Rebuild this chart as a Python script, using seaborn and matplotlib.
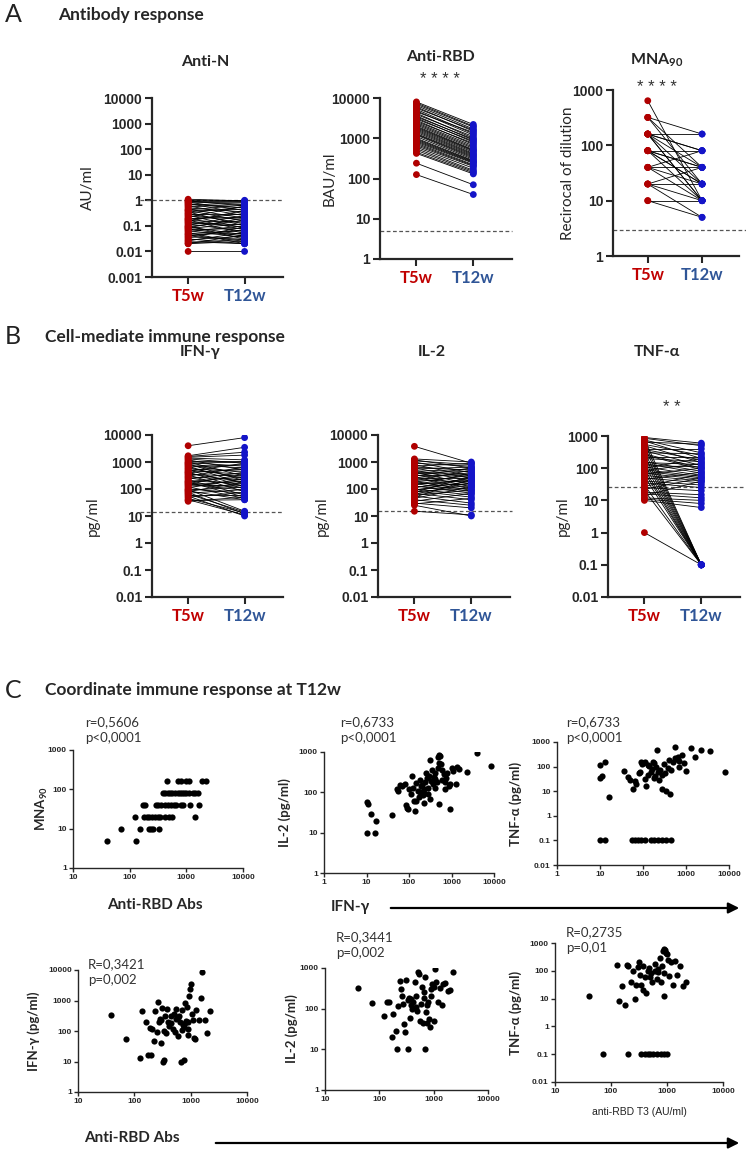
import numpy as np
import pandas as pd
import seaborn as sns
import matplotlib
matplotlib.use("Agg")
from matplotlib import pyplot as plt
from matplotlib.ticker import NullLocator
from matplotlib.transforms import blended_transform_factory
from matplotlib.patches import FancyArrowPatch

W, H = 746, 1149
RED, BLUE = "#b00000", "#1414c8"
RED_TXT, BLUE_TXT = "#c00000", "#2f5597"
TEXT_FONT = ["Lato", "DejaVu Sans"]
TICK_FONT = ["Liberation Sans", "DejaVu Sans"]

# --- A: antibody response, paired T5w / T12w ---
antin_t5 = [1.1, 1.0, 0.95, 0.9, 0.85, 0.8, 0.75, 0.7, 0.65, 0.6,
            0.55, 0.5, 0.45, 0.42, 0.4, 0.38, 0.35, 0.32, 0.3, 0.28,
            0.26, 0.24, 0.22, 0.2, 0.19, 0.18, 0.17, 0.16, 0.15, 0.14,
            0.13, 0.12, 0.11, 0.1, 0.095, 0.09, 0.085, 0.08, 0.075, 0.07,
            0.065, 0.06, 0.055, 0.05, 0.047, 0.044, 0.04, 0.037, 0.034, 0.031,
            0.028, 0.026, 0.024, 0.022, 0.02, 0.02, 0.01]
antin_t12 = [0.95, 1.0, 0.6, 0.9, 0.4, 0.85, 0.3, 0.5, 0.8, 0.25,
             0.7, 0.35, 0.2, 0.65, 0.15, 0.45, 0.1, 0.55, 0.12, 0.28,
             0.08, 0.18, 0.6, 0.07, 0.22, 0.3, 0.05, 0.14, 0.4, 0.09,
             0.11, 0.06, 0.25, 0.03, 0.16, 0.045, 0.2, 0.12, 0.04, 0.08,
             0.035, 0.1, 0.02, 0.065, 0.05, 0.025, 0.07, 0.03, 0.09, 0.02,
             0.04, 0.055, 0.02, 0.03, 0.045, 0.025, 0.01]

rbd_t5 = [8000, 7500, 7000, 6500, 6000, 5600, 5200, 4800, 4500, 4200,
          3900, 3600, 3400, 3200, 3000, 2800, 2600, 2450, 2300, 2150,
          2000, 1900, 1800, 1700, 1600, 1500, 1400, 1300, 1250, 1200,
          1100, 1000, 950, 900, 850, 800, 750, 700, 650, 600,
          550, 500, 450, 420, 240, 125]
rbd_t12 = [2200, 2000, 1900, 1700, 1500, 1600, 1300, 1200, 1400, 1000,
           1100, 900, 950, 800, 850, 700, 750, 650, 600, 560,
           520, 500, 480, 450, 420, 400, 380, 360, 340, 320,
           300, 280, 270, 260, 250, 240, 220, 210, 200, 180,
           160, 150, 140, 130, 70, 40]

mna_t5 = [640, 320, 320, 320, 160, 160, 160, 160, 160, 160,
          160, 80, 80, 80, 80, 80, 80, 40, 40, 40,
          40, 20, 20, 20, 20, 10, 10]
mna_t12 = [10, 160, 40, 20, 160, 80, 80, 40, 20, 10,
           10, 80, 40, 40, 20, 20, 10, 80, 40, 20,
           10, 40, 20, 10, 5, 10, 5]

# --- B: cell-mediated response, paired T5w / T12w ---
ifn_t5 = [4000, 1700, 1600, 1500, 1400, 1300, 1200, 1100, 1000, 950,
          900, 850, 800, 750, 700, 650, 600, 560, 520, 480,
          450, 420, 400, 380, 350, 330, 300, 280, 260, 240,
          220, 200, 190, 180, 170, 160, 150, 140, 130, 120,
          110, 100, 95, 90, 85, 80, 75, 70, 65, 60,
          55, 50, 45, 40, 38, 35]
ifn_t12 = [8000, 3500, 2300, 1800, 1200, 900, 500, 1100, 300, 700,
           1000, 200, 600, 400, 150, 800, 250, 450, 120, 350,
           900, 100, 550, 180, 300, 80, 650, 220, 130, 400,
           60, 160, 280, 50, 110, 350, 90, 200, 140, 45,
           250, 70, 15, 120, 40, 180, 12, 95, 14, 60,
           10, 75, 13, 11, 40, 50]

il2_t5 = [3800, 1300, 1200, 1100, 1000, 900, 800, 700, 650, 600,
          550, 500, 450, 420, 400, 380, 350, 320, 300, 280,
          260, 240, 220, 200, 190, 180, 170, 160, 150, 140,
          130, 120, 110, 100, 95, 90, 85, 80, 75, 70,
          65, 60, 55, 50, 45, 40, 35, 30, 28, 25, 15]
il2_t12 = [900, 1000, 600, 800, 400, 700, 300, 900, 500, 250,
           650, 200, 550, 150, 450, 350, 120, 300, 600, 100,
           400, 250, 180, 500, 90, 320, 140, 80, 220, 380,
           70, 160, 260, 60, 130, 200, 50, 110, 300, 40,
           170, 90, 30, 230, 120, 25, 70, 20, 45, 10, 11]

tnf_t5 = [900, 850, 800, 750, 700, 650, 600, 550, 500, 450,
          400, 380, 350, 320, 300, 280, 260, 240, 220, 200,
          180, 160, 150, 140, 130, 120, 110, 100, 95, 90,
          85, 80, 75, 70, 65, 60, 55, 50, 45, 40,
          35, 30, 27, 25, 22, 20, 18, 16, 14, 12,
          11, 10, 1]
tnf_t12 = [600, 500, 0.1, 300, 200, 550, 0.1, 250, 150, 0.1,
           400, 180, 120, 0.1, 280, 100, 90, 0.1, 220, 160,
           0.1, 80, 130, 70, 0.1, 110, 60, 200, 0.1, 55,
           140, 50, 0.1, 45, 100, 40, 0.1, 35, 75, 30,
           25, 0.1, 65, 20, 50, 0.1, 15, 12, 40, 10,
           8, 6, 0.1]

# --- C: correlations at T12w ---
c1_rbd = [460, 720, 800, 1000, 1100, 1900, 2200,
          380, 420, 470, 520, 570, 620, 700, 760, 830, 900, 1000, 1100, 1300, 1450, 1600,
          170, 190, 290, 320, 360, 420, 470, 540, 600, 650, 790, 880, 1150, 1650,
          125, 180, 200, 220, 250, 280, 310, 350, 420, 500, 570, 1450,
          70, 150, 215, 235, 260, 330,
          40, 130]
c1_mna = [160, 160, 160, 160, 160, 160, 160,
          80, 80, 80, 80, 80, 80, 80, 80, 80, 80, 80, 80, 80, 80, 80,
          40, 40, 40, 40, 40, 40, 40, 40, 40, 40, 40, 40, 40, 40,
          20, 20, 20, 20, 20, 20, 20, 20, 20, 20, 20, 20,
          10, 10, 10, 10, 10, 10,
          5, 5]

c2_ifn = [10, 11, 13, 17, 10, 16, 39, 51, 55, 60,
          70, 80, 85, 90, 95, 100, 110, 120, 125, 130,
          140, 150, 160, 170, 180, 190, 200, 210, 220, 230,
          240, 250, 260, 280, 300, 310, 330, 350, 360, 380,
          400, 420, 450, 470, 500, 510, 520, 550, 580, 600,
          650, 700, 750, 800, 850, 920, 920, 1000, 1100, 1250,
          1320, 1500, 2350, 3900, 8300, 480, 280, 320, 230, 400,
          180, 600, 700, 150]
c2_il2 = [58, 52, 29, 20, 10, 10, 27, 118, 105, 150,
          140, 160, 48, 40, 38, 120, 90, 250, 130, 60,
          35, 170, 110, 75, 200, 140, 150, 85, 55, 120,
          180, 300, 230, 130, 260, 620, 190, 350, 160, 240,
          300, 210, 180, 400, 520, 820, 51, 790, 500, 200,
          290, 180, 230, 300, 140, 160, 38, 400, 330, 160,
          420, 380, 316, 950, 450, 760, 90, 70, 95, 130,
          100, 350, 120, 60]

c3_ifn = [10, 13, 10, 11, 16, 10, 13, 37, 45, 50,
          60, 65, 70, 80, 85, 90, 95, 100, 110, 120,
          130, 140, 150, 160, 170, 180, 190, 200, 212, 220,
          240, 250, 270, 300, 320, 350, 380, 400, 433, 450,
          500, 565, 600, 650, 700, 800, 900, 1000, 1300, 1600,
          2200, 3550, 8200, 280, 180, 130, 110, 700, 550, 55,
          65, 75, 90, 110, 150, 180, 220, 280, 350, 450]
c3_tnf = [117, 160, 34, 40, 6, 0.1, 0.1, 69, 38, 28,
          12, 25, 20, 55, 60, 150, 130, 140, 30, 16,
          45, 110, 60, 80, 150, 35, 40, 100, 490, 60,
          28, 70, 45, 130, 55, 10, 90, 180, 8, 70,
          150, 650, 200, 250, 170, 300, 140, 65, 560, 240,
          460, 440, 59, 12, 140, 120, 160, 100, 220, 0.1,
          0.1, 0.1, 0.1, 0.1, 0.1, 0.1, 0.1, 0.1, 0.1, 0.1]

c4_rbd = [39, 70, 125, 135, 160, 175, 190, 200, 210, 220,
          235, 250, 260, 270, 280, 300, 310, 320, 330, 340,
          350, 370, 380, 400, 420, 450, 480, 500, 520, 550,
          560, 600, 620, 650, 660, 700, 720, 760, 780, 800,
          820, 850, 880, 900, 950, 980, 1000, 1050, 1100, 1150,
          1200, 1250, 1400, 1500, 1600, 1800, 1950, 2200, 900, 750,
          600, 450, 300, 700]
c4_ifn = [340, 56, 13, 460, 190, 16, 130, 16, 120, 48,
          450, 90, 900, 200, 240, 40, 550, 10, 11, 100,
          300, 85, 520, 200, 150, 300, 120, 350, 90, 530,
          250, 70, 300, 200, 10, 110, 160, 11, 800, 180,
          210, 600, 120, 200, 1400, 2300, 3600, 350, 230, 60,
          56, 500, 230, 1200, 8300, 230, 85, 440, 75, 140,
          280, 180, 230, 500]

c5_rbd = [40, 72, 140, 150, 123, 170, 180, 200, 210, 220,
          240, 250, 260, 270, 290, 300, 310, 330, 340, 350,
          360, 380, 400, 420, 450, 480, 500, 520, 540, 560,
          580, 600, 630, 650, 690, 700, 720, 760, 800, 830,
          850, 880, 900, 950, 1000, 1050, 1100, 1200, 1300, 1400,
          1500, 1600, 1800, 2000, 2230, 650, 480, 380, 750, 1000]
c5_il2 = [325, 138, 145, 150, 66, 20, 75, 28, 10, 115,
          480, 300, 200, 130, 42, 27, 500, 10, 160, 180,
          60, 120, 100, 150, 450, 200, 90, 800, 700, 50,
          130, 350, 45, 250, 10, 600, 85, 45, 150, 57,
          35, 300, 200, 400, 350, 930, 450, 150, 330, 120,
          400, 420, 270, 280, 800, 180, 110, 170, 120, 50]

c6_rbd = [40, 73, 205, 350, 400, 450, 500, 560, 650, 780,
          900, 1000, 130, 140, 160, 177, 190, 200, 230, 250,
          270, 280, 300, 310, 330, 350, 370, 380, 400, 430,
          450, 480, 500, 520, 550, 600, 650, 700, 750, 780,
          800, 850, 880, 900, 920, 950, 1000, 1050, 1100, 1200,
          1300, 1400, 1500, 1700, 1900, 2200, 600, 700, 900]
c6_tnf = [12, 0.1, 0.1, 0.1, 0.1, 0.1, 0.1, 0.1, 0.1, 0.1,
          0.1, 0.1, 160, 8, 28, 6, 160, 150, 40, 100,
          10, 30, 140, 200, 70, 30, 20, 150, 60, 16,
          100, 130, 60, 80, 40, 100, 50, 120, 300, 40,
          150, 500, 600, 12, 550, 450, 400, 250, 65, 200,
          30, 230, 70, 150, 28, 40, 180, 90, 80]


sns.set_style("ticks")
plt.rcParams["font.family"] = TEXT_FONT
plt.rcParams["mathtext.fontset"] = "custom"
plt.rcParams["mathtext.rm"] = "Lato"
plt.rcParams["mathtext.bf"] = "Lato:bold"


def px_axes(fig, left, top, right, bottom):
    return fig.add_axes([left / W, 1 - bottom / H, (right - left) / W, (bottom - top) / H])


def px_text(fig, x, y, s, **kw):
    kw.setdefault("ha", "center")
    kw.setdefault("va", "center")
    return fig.text(x / W, 1 - y / H, s, **kw)


def decades(lo, hi):
    exps = np.arange(round(np.log10(lo)), round(np.log10(hi)) + 1)
    return [10.0 ** e for e in exps]


def log_ticks(ax, axis, lim, size, weight="bold"):
    ticks = decades(*lim)
    labels = [f"{t:g}" for t in ticks]
    if axis == "y":
        ax.set_ylim(*lim)
        ax.set_yticks(ticks, labels, fontsize=size, fontweight=weight, family=TICK_FONT)
        ax.yaxis.set_minor_locator(NullLocator())
    else:
        ax.set_xlim(*lim)
        ax.set_xticks(ticks, labels, fontsize=size, fontweight=weight, family=TICK_FONT)
        ax.xaxis.set_minor_locator(NullLocator())


def paired_panel(fig, box, t5, t12, ylim, title, title_xy, ylabel, ylabel_x,
                 cutoff, cut_span, stars=None, stars_xy=None):
    ax = px_axes(fig, *box)
    n = len(t5)
    df = pd.DataFrame({"subject": list(range(n)) * 2,
                       "time": [0] * n + [1] * n,
                       "value": list(t5) + list(t12)})
    sns.lineplot(data=df, x="time", y="value", units="subject", estimator=None,
                 color="black", lw=0.6, ax=ax)
    sns.scatterplot(data=df, x="time", y="value", hue="time",
                    palette={0: RED, 1: BLUE}, s=24, linewidth=0,
                    legend=False, ax=ax, zorder=3)
    ax.set_yscale("log")
    log_ticks(ax, "y", ylim, 10)
    ax.set_xlim(-0.64, 1.68)
    ax.set_xticks([0, 1], ["T5w", "T12w"], fontsize=12, fontweight="bold", family=TEXT_FONT)
    for lab, c in zip(ax.get_xticklabels(), [RED_TXT, BLUE_TXT]):
        lab.set_color(c)
    ax.tick_params(length=5, width=1.5, pad=2)
    ax.tick_params(axis="x", pad=3)
    ax.set_xlabel("")
    ax.set_ylabel("")
    sns.despine(ax=ax)
    for sp in ("left", "bottom"):
        ax.spines[sp].set_linewidth(1.6)
    trans = blended_transform_factory(fig.transFigure, ax.transData)
    ax.plot([cut_span[0] / W, cut_span[1] / W], [cutoff, cutoff], transform=trans,
            ls=(0, (3, 2)), color="#555555", lw=0.9, clip_on=False, zorder=1)
    px_text(fig, *title_xy, title, fontsize=11.5, fontweight="bold")
    if stars:
        px_text(fig, *stars_xy, stars, fontsize=12, family=TICK_FONT, color="#333333")
    px_text(fig, ylabel_x, (box[1] + box[3]) / 2, ylabel, fontsize=11, rotation=90)
    return ax


def scatter_panel(fig, box, x, y, xlim, ylim, ylabel, ylabel_x, note, note_xy):
    ax = px_axes(fig, *box)
    sns.scatterplot(x=x, y=y, color="black", s=20, linewidth=0, ax=ax)
    ax.set_xscale("log")
    ax.set_yscale("log")
    log_ticks(ax, "x", xlim, 6)
    log_ticks(ax, "y", ylim, 6)
    ax.tick_params(length=3, width=1.0, pad=1.5)
    ax.set_xlabel("")
    ax.set_ylabel("")
    sns.despine(ax=ax)
    for sp in ("left", "bottom"):
        ax.spines[sp].set_linewidth(1.0)
    px_text(fig, ylabel_x, (box[1] + box[3]) / 2, ylabel, fontsize=9.5,
            fontweight="bold", rotation=90)
    px_text(fig, *note_xy, note, fontsize=9.5, ha="left", va="top",
            color="#333333", linespacing=1.4)
    return ax


def px_arrow(fig, x0, x1, y):
    arr = FancyArrowPatch((x0 / W, 1 - y / H), (x1 / W, 1 - y / H),
                          transform=fig.transFigure, arrowstyle="-|>",
                          mutation_scale=16, color="black", lw=1.6)
    fig.add_artist(arr)


fig = plt.figure(figsize=(W / 100, H / 100), dpi=100)

# section headers
for letter, head, y in [("A", "Antibody response", 15),
                        ("B", "Cell-mediate immune response", 337),
                        ("C", "Coordinate immune response at T12w", 690)]:
    px_text(fig, 5, y, letter, fontsize=18, ha="left", color="#222222")
    px_text(fig, 45 if letter != "A" else 58, y, head, fontsize=12.5,
            fontweight="bold", ha="left")

# panel A
paired_panel(fig, (152, 98, 283, 277), antin_t5, antin_t12, (0.001, 10000),
             "Anti-N", (205, 62), "AU/ml", 88, 1, (140, 283))
paired_panel(fig, (380, 98, 512, 259), rbd_t5, rbd_t12, (1, 10000),
             "Anti-RBD", (440, 57), "BAU/ml", 330, 5, (380, 512),
             stars="* * * *", stars_xy=(440, 80))
paired_panel(fig, (613, 90, 739, 256), mna_t5, mna_t12, (1, 1000),
             r"MNA$_{\mathbf{90}}$", (657, 60), "Recirocal of dilution", 568, 3, (613, 746),
             stars="* * * *", stars_xy=(657, 88))

# panel B
paired_panel(fig, (152, 435, 283, 597), ifn_t5, ifn_t12, (0.01, 10000),
             "IFN-γ", (200, 352), "pg/ml", 93, 14, (140, 283))
paired_panel(fig, (378, 435, 510, 597), il2_t5, il2_t12, (0.01, 10000),
             "IL-2", (432, 352), "pg/ml", 322, 15, (378, 512))
paired_panel(fig, (608, 436, 740, 597), tnf_t5, tnf_t12, (0.01, 1000),
             "TNF-α", (657, 352), "pg/ml", 563, 27, (608, 746),
             stars="* *", stars_xy=(672, 408))

# panel C, row 1
scatter_panel(fig, (73, 750, 243, 868), c1_rbd, c1_mna, (10, 10000), (1, 1000),
              r"MNA$_{\mathbf{90}}$", 42, "r=0,5606\np<0,0001", (85, 716))
scatter_panel(fig, (324, 752, 494, 873), c2_ifn, c2_il2, (1, 10000), (1, 1000),
              "IL-2 (pg/ml)", 285, "r=0,6733\np<0,0001", (340, 716))
scatter_panel(fig, (557, 742, 729, 865), c3_ifn, c3_tnf, (1, 10000), (0.01, 1000),
              "TNF-α (pg/ml)", 516, "r=0,6733\np<0,0001", (566, 716))
px_text(fig, 155, 905, "Anti-RBD Abs", fontsize=11, fontweight="bold")
px_text(fig, 350, 907, "IFN-γ", fontsize=11, fontweight="bold")
px_arrow(fig, 388, 742, 908)

# panel C, row 2
scatter_panel(fig, (78, 970, 247, 1092), c4_rbd, c4_ifn, (10, 10000), (1, 10000),
              "IFN-γ (pg/ml)", 34, "R=0,3421\np=0,002", (88, 958))
scatter_panel(fig, (325, 968, 488, 1090), c5_rbd, c5_il2, (10, 10000), (1, 1000),
              "IL-2 (pg/ml)", 292, "R=0,3441\np=0,002", (336, 931))
scatter_panel(fig, (555, 943, 723, 1082), c6_rbd, c6_tnf, (10, 10000), (0.01, 1000),
              "TNF-α (pg/ml)", 516, "R=0,2735\np=0,01", (566, 926))
px_text(fig, 639, 1112, "anti-RBD T3 (AU/ml)", fontsize=7.5, family=TICK_FONT, color="#222222")
px_text(fig, 132, 1138, "Anti-RBD Abs", fontsize=11, fontweight="bold")
px_arrow(fig, 213, 742, 1143)

fig.savefig("out.png", dpi=100)
